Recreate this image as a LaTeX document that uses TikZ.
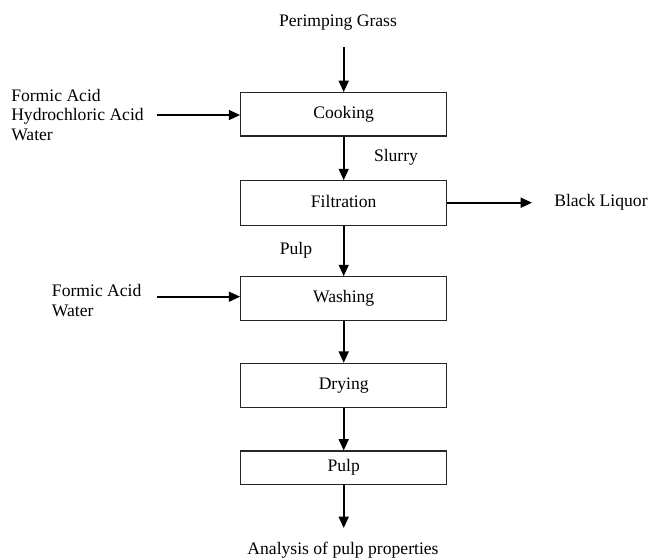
\documentclass[tikz,border=0pt]{standalone}
\usepackage{fontspec}
\setmainfont{Liberation Serif}
\usetikzlibrary{arrows.meta}
\begin{document}
\begin{tikzpicture}[x=0.75pt,y=-0.75pt,
  font=\fontsize{13.2pt}{14.6pt}\selectfont,
  stepbox/.style={draw=black!85,line width=0.9pt,minimum width=154.5pt,inner sep=0pt,text height=1.6ex,text depth=0.3ex},
  flow/.style={line width=1.2pt,-{Triangle[length=8.5pt,width=7.5pt]}},
  lbl/.style={inner sep=0pt}]
\useasboundingbox (0,0) rectangle (648,558);
% boxes
\node[stepbox,minimum height=32.5pt] (cook) at (343.7,114.3) {Cooking};
\node[stepbox,minimum height=33.7pt] (filt) at (343.7,203.2) {Filtration};
\node[stepbox,minimum height=33pt] (wash) at (343.7,298.7) {Washing};
\node[stepbox,minimum height=33pt] (dry) at (343.7,385.4) {Drying};
\node[stepbox,minimum height=25pt] (pulp) at (343.7,467.7) {Pulp};
% labels
\node[lbl] (grass) at (338,23) {Perimping Grass};
\coordinate (grassend) at (343.7,47);
\node[lbl,anchor=west,align=left] (acids) at (11,115) {Formic Acid\\Hydrochloric Acid\\Water};
\coordinate (acidend) at (156.7,115);
\node[lbl] (slurry) at (396,157) {Slurry};
\node[lbl,anchor=west] (black) at (554,202.7) {Black Liquor};
\coordinate (blackend) at (532,202.7);
\node[lbl] (pulplbl) at (296,250) {Pulp};
\node[lbl,anchor=west,align=left] (acids2) at (51.7,300.4) {Formic Acid\\Water};
\coordinate (acid2end) at (156.7,296.7);
\coordinate (anaend) at (343.7,528);
\node[lbl] (ana) at (343,550) {Analysis of pulp properties};
% connectors
\draw[flow] (grassend) -- (cook.north);
\draw[flow] (acidend) -- (cook.west |- acidend);
\draw[flow] (cook.south) -- (filt.north);
\draw[flow] (filt.east |- blackend) -- (blackend);
\draw[flow] (filt.south) -- (wash.north);
\draw[flow] (acid2end) -- (wash.west |- acid2end);
\draw[flow] (wash.south) -- (dry.north);
\draw[flow] (dry.south) -- (pulp.north);
\draw[flow] (pulp.south) -- (anaend);
\end{tikzpicture}
\end{document}
